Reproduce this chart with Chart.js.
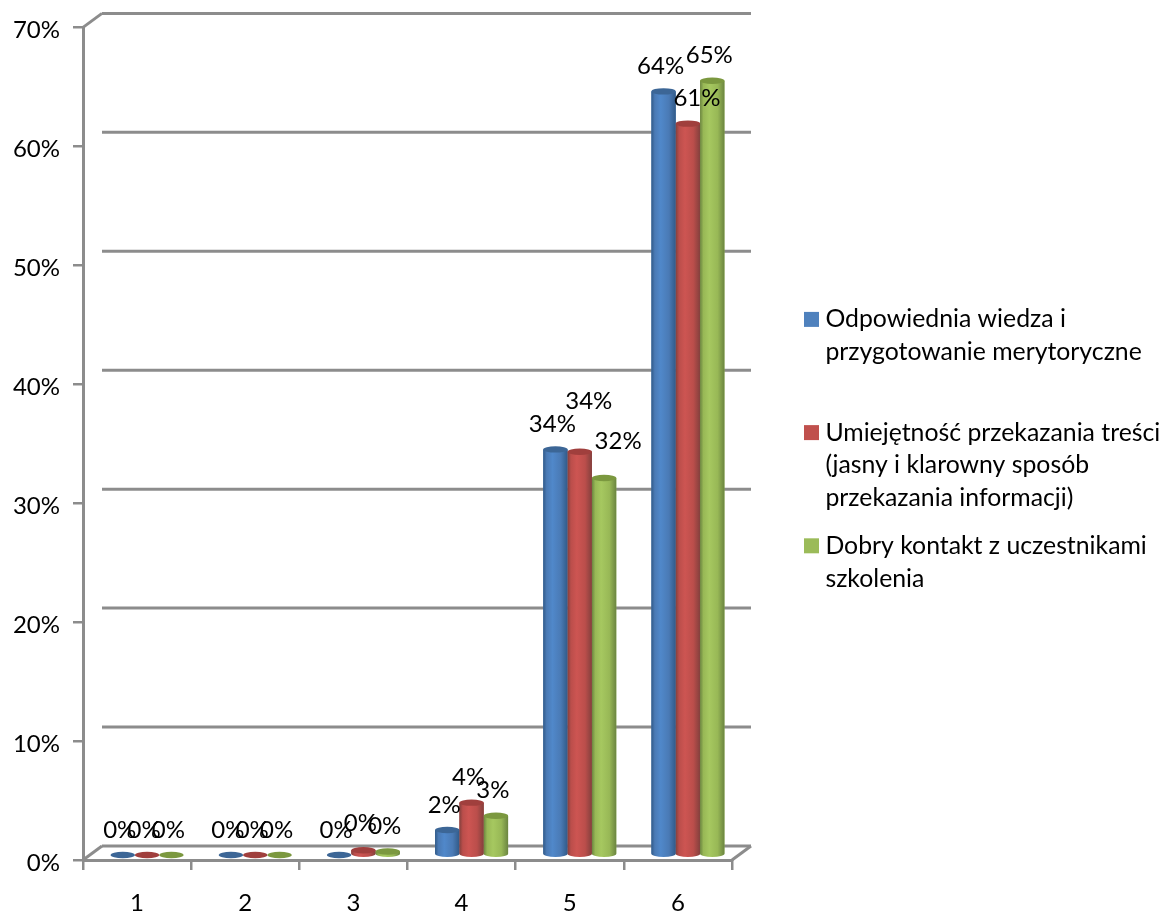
<!DOCTYPE html>
<html lang="pl">
<head>
<meta charset="utf-8">
<title>Wykres</title>
<script src="https://cdn.jsdelivr.net/npm/chart.js@4"></script>
<style>
  html, body { margin: 0; padding: 0; background: #fff; }
  canvas { display: block; }
</style>
</head>
<body>
<canvas id="wykres" width="1163" height="912"></canvas>
<script>
// dane
const categories = ["1", "2", "3", "4", "5", "6"];
const wiedza = [0, 0, 0, 2.1, 34.1, 64.2];
const umiejetnosc = [0, 0, 0.4, 4.4, 33.9, 61.49];
const kontakt = [0, 0, 0.3, 3.3, 31.7, 65.1];
const yTicks = [0, 10, 20, 30, 40, 50, 60, 70];

const legendWiedza = ["Odpowiednia wiedza i", "przygotowanie merytoryczne", ""];
const legendUmiejetnosc = ["Umiejętność przekazania treści", "(jasny i klarowny sposób", "przekazania informacji)"];
const legendKontakt = ["Dobry kontakt z uczestnikami", "szkolenia"];

const FONT = "Lato";
const GREY = "#8c8c8c";

// glebokosc "3D": tylna sciana i przesuniecie slupkow wzgledem osi
const DEPTH = { x: 19, y: 14 };
const BAR_SHIFT = { x: 10, y: -5 };
const CAP_RY = 3.2;

// odcienie walca: krawedz, srodek, blask, gorna pokrywa
const shades = [
    { edge: "#315a88", mid: "#4a7ab5", light: "#5088ca", cap: "#3c6696" },
    { edge: "#83403d", mid: "#bb4e4b", light: "#cd5552", cap: "#a03f3d" },
    { edge: "#6b8540", mid: "#98b856", light: "#a6c860", cap: "#7b983f" }
];

// recznie przesuniete etykiety, ktore w oryginale nie leza nad slupkiem
const labelNudge = { "1:4": [12, -26], "2:4": [17, -12], "1:5": [12, 0], "1:2": [0, -2] };

function drawCylinder(ctx, bar, shade) {
    const left = bar.x - bar.width / 2;
    const right = bar.x + bar.width / 2;
    const rx = bar.width / 2;
    if (bar.base - bar.y > 0.5) {
        const g = ctx.createLinearGradient(left, 0, right, 0);
        g.addColorStop(0, shade.edge);
        g.addColorStop(0.14, shade.mid);
        g.addColorStop(0.38, shade.light);
        g.addColorStop(0.72, shade.mid);
        g.addColorStop(1, shade.edge);
        ctx.fillStyle = g;
        ctx.beginPath();
        ctx.moveTo(left, bar.y);
        ctx.lineTo(left, bar.base);
        ctx.ellipse(bar.x, bar.base, rx, CAP_RY, 0, Math.PI, 0, true);
        ctx.lineTo(right, bar.y);
        ctx.closePath();
        ctx.fill();
    }
    ctx.fillStyle = shade.cap;
    ctx.beginPath();
    ctx.ellipse(bar.x, bar.y, rx, CAP_RY, 0, 0, Math.PI * 2);
    ctx.fill();
}

const wykres3d = {
    id: "wykres3d",
    afterInit(chart) {
        // legenda rezerwuje caly pas po prawej stronie wykresu
        const fit = chart.legend.fit;
        chart.legend.fit = function () {
            fit.call(this);
            this.width = 431;
        };
    },
    afterLayout(chart) {
        chart.legend.left = 795;
        chart.legend.top = 292;
    },
    beforeDatasetsDraw(chart) {
        const { ctx, chartArea, scales } = chart;
        const x0 = chartArea.left, x1 = chartArea.right;
        ctx.save();
        ctx.strokeStyle = GREY;
        ctx.lineWidth = 3;
        yTicks.forEach(v => {
            const y = scales.y.getPixelForValue(v) - DEPTH.y;
            ctx.beginPath();
            ctx.moveTo(x0 + DEPTH.x, y);
            ctx.lineTo(x1 + DEPTH.x, y);
            ctx.stroke();
        });
        // skosy: gora lewej sciany i dwa rogi podlogi
        const top = scales.y.getPixelForValue(70);
        const bottom = scales.y.getPixelForValue(0);
        [[x0, top], [x0, bottom], [x1, bottom]].forEach(p => {
            ctx.beginPath();
            ctx.moveTo(p[0], p[1]);
            ctx.lineTo(p[0] + DEPTH.x, p[1] - DEPTH.y);
            ctx.stroke();
        });
        ctx.restore();
        ctx.save();
        ctx.translate(BAR_SHIFT.x, BAR_SHIFT.y);
    },
    afterDatasetsDraw(chart) {
        const { ctx } = chart;
        chart.data.datasets.forEach((ds, i) => {
            chart.getDatasetMeta(i).data.forEach(bar => drawCylinder(ctx, bar, shades[i]));
        });
        ctx.restore();
    },
    afterDraw(chart) {
        // etykiety danych
        const { ctx } = chart;
        ctx.save();
        ctx.font = "24px " + FONT;
        ctx.fillStyle = "#000";
        ctx.textAlign = "center";
        ctx.textBaseline = "middle";
        chart.data.datasets.forEach((ds, i) => {
            chart.getDatasetMeta(i).data.forEach((bar, j) => {
                const nudge = labelNudge[i + ":" + j] || [0, 0];
                const lx = bar.x + BAR_SHIFT.x - 3 + nudge[0];
                const ly = bar.y + BAR_SHIFT.y - 25 + nudge[1];
                ctx.fillText(Math.round(ds.data[j]) + "%", lx, ly);
            });
        });
        ctx.restore();
    }
};

function makeDataset(label, data, color) {
    return { label: label, data: data, backgroundColor: color, borderWidth: 0 };
}

new Chart(document.getElementById("wykres"), {
    type: "bar",
    data: {
        labels: categories,
        datasets: [
            makeDataset(legendWiedza, wiedza, "#4f81bd"),
            makeDataset(legendUmiejetnosc, umiejetnosc, "#c0504d"),
            makeDataset(legendKontakt, kontakt, "#9bbb59")
        ]
    },
    options: {
        responsive: false,
        animation: false,
        layout: { padding: { top: 26, left: 0, right: 0, bottom: 0 } },
        datasets: { bar: { categoryPercentage: 0.675, barPercentage: 1 } },
        scales: {
            x: {
                afterFit(scale) { scale.height = 52; },
                grid: { drawOnChartArea: false, color: GREY, lineWidth: 2.5, tickLength: 10 },
                border: { color: GREY, width: 3 },
                ticks: { color: "#000", padding: 19, maxRotation: 0, font: { family: FONT, size: 24 } }
            },
            y: {
                min: 0,
                max: 70,
                afterFit(scale) { scale.width = 83; },
                grid: { drawOnChartArea: false, color: GREY, lineWidth: 2.5, tickLength: 10 },
                border: { color: GREY, width: 3 },
                ticks: {
                    stepSize: 10,
                    color: "#000",
                    padding: 13,
                    labelOffset: 3,
                    font: { family: FONT, size: 24 },
                    callback: v => v + "%"
                }
            }
        },
        plugins: {
            tooltip: { enabled: false },
            legend: {
                position: "right",
                align: "start",
                labels: {
                    color: "#000",
                    usePointStyle: true,
                    pointStyle: "rect",
                    boxWidth: 3,
                    boxHeight: 15,
                    padding: 15,
                    font: { family: FONT, size: 24.8, lineHeight: 1.32 }
                }
            }
        }
    },
    plugins: [wykres3d]
});
</script>
</body>
</html>
